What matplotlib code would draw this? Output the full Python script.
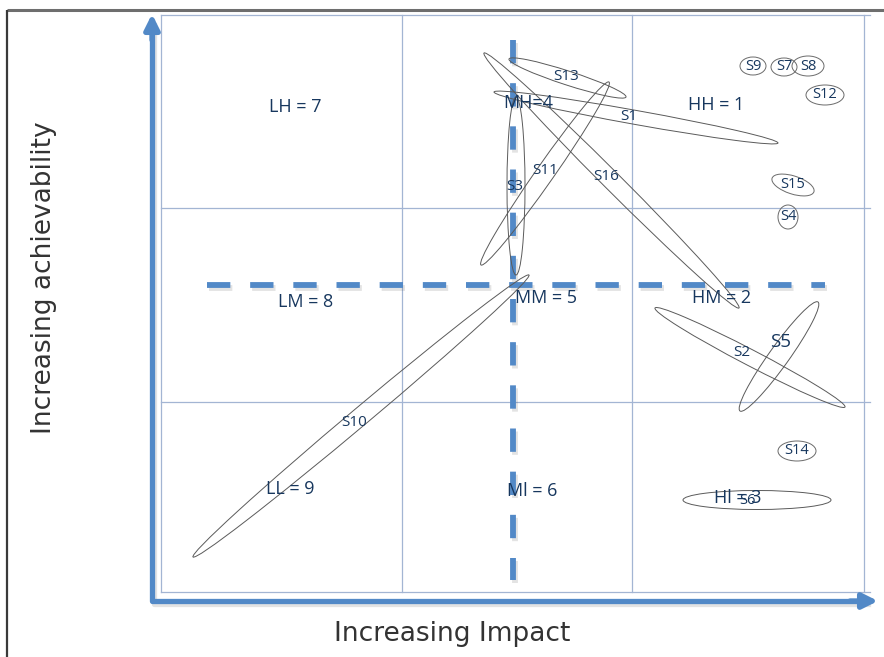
#!/usr/bin/env python3
import matplotlib
matplotlib.use("Agg")
import matplotlib.pyplot as plt
import matplotlib.patheffects as pe
from matplotlib.patches import Ellipse
import numpy as np

# canvas units = pixels of the original picture (y grows downward)
W, H = 884, 657

# 3x3 grid (Impact x Achievability)
grid_x = [161, 402, 632, 864]
grid_y = [15, 208, 402, 592]

# dashed medians
dash_h = ([207, 825], [285, 285])
dash_v = ([513, 513], [40, 580])

# region labels: text, x, y
regions = [
    ("LH = 7", 295, 107), ("MH=4", 528, 103), ("HH = 1", 716, 105),
    ("LM = 8", 306, 302), ("MM = 5", 546, 298), ("HM = 2", 722, 298),
    ("LL = 9", 290, 489), ("Ml = 6", 532, 491), ("Hl = 3", 738, 498),
]

# long ellipses: label, tip1, tip2, minor width, label position, size
long_ellipses = [
    ("S13", (509, 59), (626, 97), 14, (566, 76), 11),
    ("S1", (494, 92), (778, 143), 14, (629, 116), 11),
    ("S16", (484, 53), (739, 308), 18, (606, 177), 11),
    ("S11", (481, 265), (609, 82), 18, (545, 170), 11),
    ("S3", (516, 97), (516, 275), 18, (515, 186), 11),
    ("S10", (193, 557), (529, 275), 18, (354, 423), 11),
    ("S2", (655, 308), (845, 407), 16, (742, 353), 11),
    ("S5", (818, 302), (740, 411), 20, (781, 342), 13.5),
    ("S6", (683, 500), (831, 500), 19, (747, 501), 10.5),
]

# small ellipses round the label: label, cx, cy, width, height, angle
small_ellipses = [
    ("S9", 753, 66, 26, 18, 0),
    ("S7", 784, 67, 26, 18, 0),
    ("S8", 808, 66, 32, 20, 0),
    ("S12", 825, 95, 38, 20, 0),
    ("S15", 793, 185, 44, 18, 18),
    ("S4", 788, 217, 20, 24, 0),
    ("S14", 797, 451, 38, 20, 0),
]

text_color = "#17375e"
grid_color = "#a3b5d3"
blue = "#5289c7"

fig = plt.figure(figsize=(W / 100, H / 100), dpi=100)
ax = fig.add_axes([0, 0, 1, 1])
ax.set_xlim(0, W)
ax.set_ylim(H, 0)
ax.axis("off")

# outer frame (top and left only)
ax.plot([7, W], [10, 10], color="#6e6e6e", lw=2.2, solid_capstyle="butt")
ax.plot([7, 7], [10, H], color="#3a3a3a", lw=1.6, solid_capstyle="butt")

# grid
for gx in grid_x:
    ax.plot([gx, gx], [grid_y[0], grid_y[-1]], color=grid_color, lw=0.9)
for gy in grid_y:
    ax.plot([grid_x[0], grid_x[-1] + 6], [gy, gy], color=grid_color, lw=0.9)

shadow = [pe.SimpleLineShadow(offset=(1.5, -2.5), alpha=0.15, shadow_color="#444"), pe.Normal()]

# dashed medians
for xs, ys in (dash_h, dash_v):
    ax.plot(xs, ys, color=blue, lw=4.2, dashes=(4.0, 3.4), solid_capstyle="butt",
            dash_capstyle="butt", path_effects=shadow, zorder=2)

# axis arrows
ax.plot([152, 152, 866], [22, 601, 601], color=blue, lw=3.8, solid_joinstyle="round",
        path_effects=shadow, zorder=3)
ax.annotate("", xy=(152, 14), xytext=(152, 40),
            arrowprops=dict(arrowstyle="-|>,head_length=0.9,head_width=0.45", color=blue, lw=3.8,
                            shrinkA=0, shrinkB=0), zorder=3)
ax.annotate("", xy=(878, 601), xytext=(850, 601),
            arrowprops=dict(arrowstyle="-|>,head_length=0.9,head_width=0.45", color=blue, lw=3.8,
                            shrinkA=0, shrinkB=0), zorder=3)

# ellipses
for name, p1, p2, minor, (lx, ly), fs in long_ellipses:
    cx, cy = (p1[0] + p2[0]) / 2, (p1[1] + p2[1]) / 2
    length = np.hypot(p2[0] - p1[0], p2[1] - p1[1])
    ang = np.degrees(np.arctan2(p2[1] - p1[1], p2[0] - p1[0]))
    ax.add_patch(Ellipse((cx, cy), length, minor, angle=ang, fill=False,
                         ec="#5a5a5a", lw=0.7, zorder=4))

for name, cx, cy, w, h, ang in small_ellipses:
    ax.add_patch(Ellipse((cx, cy), w, h, angle=ang, fill=False, ec="#6a6a6a", lw=0.7, zorder=4))
    ax.text(cx, cy, name, ha="center", va="center", fontsize=10.5, color=text_color,
            family="Open Sans", zorder=5)

# region labels
for txt, x, y in regions:
    ax.text(x, y, txt, ha="center", va="center", fontsize=13, color=text_color,
            family="Open Sans", zorder=5)

for name, p1, p2, minor, (lx, ly), fs in long_ellipses:
    ax.text(lx, ly, name, ha="center", va="center", fontsize=fs, color=text_color,
            family="Open Sans", zorder=6)

# axis titles
ax.text(452, 634, "Increasing Impact", ha="center", va="center", fontsize=19,
        color="#333333", family="DejaVu Sans")
ax.text(44, 278, "Increasing achievability", ha="center", va="center", fontsize=19,
        rotation=90, color="#333333", family="DejaVu Sans")

fig.savefig("out.png", dpi=100)
